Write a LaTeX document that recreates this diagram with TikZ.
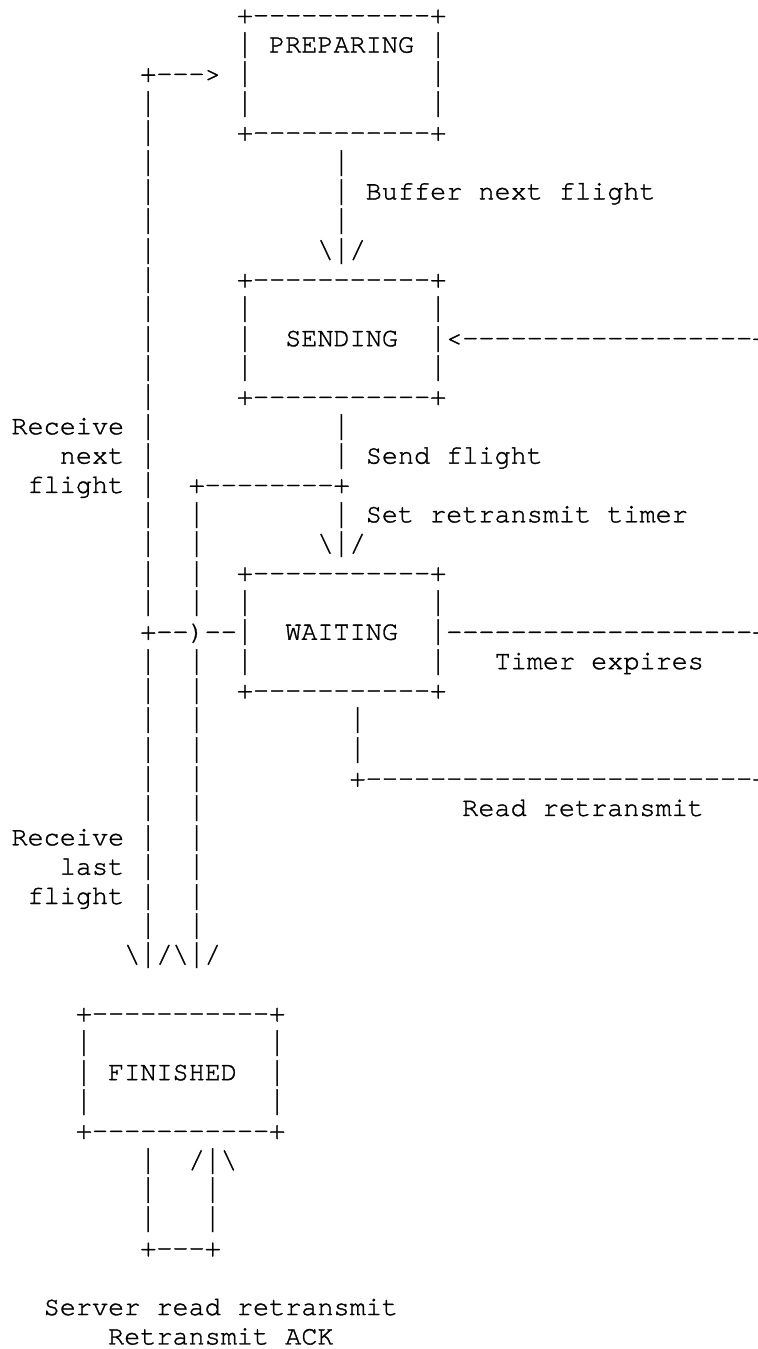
\documentclass[tikz,border=0pt]{standalone}
\usepackage{fontspec}
\newfontfamily\cursorfont{texgyrecursor-regular.otf}[FakeBold=1.2,Ligatures=NoCommon]
\newfontfamily\barfont{DejaVu Sans Mono}

% character grid: 16.1 px per column, 29.36 px per row (1 px = 0.5 pt)
\newcommand\dashes[1]{\foreach\dashi in {1,...,#1}{-\kern0pt}}
\newcommand\blanks[1]{\kern#1\dimexpr0.6em\relax}
\newcommand\bsl{\textbackslash}
% full-height vertical bar, one column wide
\newcommand\vb{\makebox[0.6em][c]{\scalebox{0.7}[0.97]{\barfont|}}}
\newcommand\asciirow[3]{%
  \node[ascii] (r#1c#2) at ({11.5+#2*16.1},{23.2+(#1-1)*29.36}) {#3};}

\tikzset{
  ascii/.style={anchor=base west, inner sep=0pt, outer sep=0pt,
    font=\fontsize{13.42pt}{14.7pt}\cursorfont\frenchspacing}
}

\begin{document}
\begin{tikzpicture}[x=0.5pt,y=-0.5pt]
\useasboundingbox (0,0) rectangle (757,1349);

% PREPARING
\asciirow{1}{14}{+\dashes{11}+}
\asciirow{2}{14}{\vb\blanks{1}PREPARING\blanks{1}\vb}
\asciirow{3}{8}{+\dashes{3}>\blanks{1}\vb\blanks{11}\vb}
\asciirow{4}{8}{\vb\blanks{5}\vb\blanks{11}\vb}
\asciirow{5}{8}{\vb\blanks{5}+\dashes{11}+}
\asciirow{6}{8}{\vb\blanks{11}\vb}
\asciirow{7}{8}{\vb\blanks{11}\vb\blanks{1}Buffer next flight}
\asciirow{8}{8}{\vb\blanks{11}\vb}
\asciirow{9}{8}{\vb\blanks{10}\bsl\vb/}

% SENDING
\asciirow{10}{8}{\vb\blanks{5}+\dashes{11}+}
\asciirow{11}{8}{\vb\blanks{5}\vb\blanks{11}\vb}
\asciirow{12}{8}{\vb\blanks{5}\vb\blanks{2}SENDING\blanks{2}\vb<\dashes{18}+}
\asciirow{13}{8}{\vb\blanks{5}\vb\blanks{11}\vb}
\asciirow{14}{8}{\vb\blanks{5}+\dashes{11}+}
\asciirow{15}{0}{Receive\blanks{1}\vb\blanks{11}\vb}
\asciirow{16}{3}{next\blanks{1}\vb\blanks{11}\vb\blanks{1}Send flight}
\asciirow{17}{1}{flight\blanks{1}\vb\blanks{2}+\dashes{8}+}
\asciirow{18}{8}{\vb\blanks{2}\vb\blanks{8}\vb\blanks{1}Set retransmit timer}
\asciirow{19}{8}{\vb\blanks{2}\vb\blanks{7}\bsl\vb/}

% WAITING
\asciirow{20}{8}{\vb\blanks{2}\vb\blanks{2}+\dashes{11}+}
\asciirow{21}{8}{\vb\blanks{2}\vb\blanks{2}\vb\blanks{11}\vb}
\asciirow{22}{8}{+\dashes{2})\dashes{2}\vb\blanks{2}WAITING\blanks{2}\vb\dashes{19}+}
\asciirow{23}{8}{\vb\blanks{2}\vb\blanks{2}\vb\blanks{11}\vb\blanks{3}Timer expires}
\asciirow{24}{8}{\vb\blanks{2}\vb\blanks{2}+\dashes{11}+}
\asciirow{25}{8}{\vb\blanks{2}\vb\blanks{9}\vb}
\asciirow{26}{8}{\vb\blanks{2}\vb\blanks{9}\vb}
\asciirow{27}{8}{\vb\blanks{2}\vb\blanks{9}+\dashes{24}+}
\asciirow{28}{8}{\vb\blanks{2}\vb}
\asciirow{28}{28}{Read retransmit}

% retransmission loop on the right edge
\foreach \r in {13,...,21,23,24,25,26} {\asciirow{\r}{46}{\vb}}

% into FINISHED
\asciirow{29}{0}{Receive\blanks{1}\vb\blanks{2}\vb}
\asciirow{30}{3}{last\blanks{1}\vb\blanks{2}\vb}
\asciirow{31}{1}{flight\blanks{1}\vb\blanks{2}\vb}
\asciirow{32}{8}{\vb\blanks{2}\vb}
\asciirow{33}{7}{\bsl\vb/\bsl\vb/}

% FINISHED
\asciirow{35}{4}{+\dashes{11}+}
\asciirow{36}{4}{\vb\blanks{11}\vb}
\asciirow{37}{4}{\vb\blanks{1}FINISHED\blanks{2}\vb}
\asciirow{38}{4}{\vb\blanks{11}\vb}
\asciirow{39}{4}{+\dashes{11}+}
\asciirow{40}{8}{\vb\blanks{2}/\vb\bsl}
\asciirow{41}{8}{\vb\blanks{3}\vb}
\asciirow{42}{8}{\vb\blanks{3}\vb}
\asciirow{43}{8}{+\dashes{3}+}

\asciirow{45}{2}{Server read retransmit}
\asciirow{46}{6}{Retransmit ACK}
\end{tikzpicture}
\end{document}
